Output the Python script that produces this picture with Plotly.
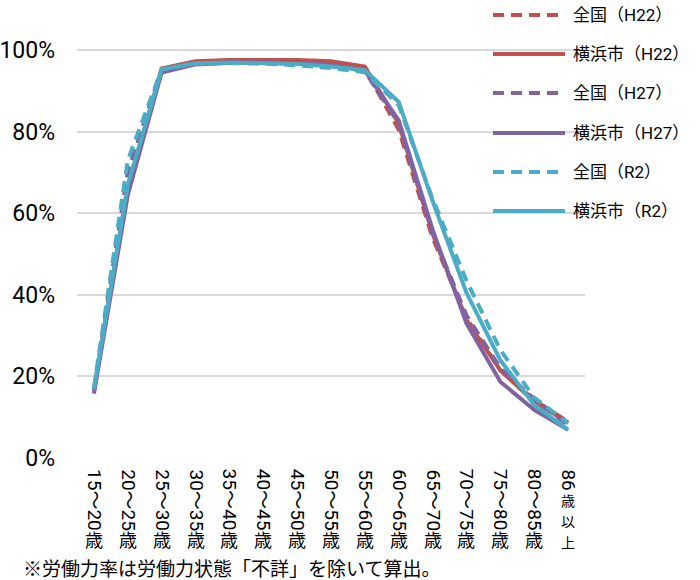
import plotly.graph_objects as go

# ---- data ----
age_groups = ["15～20歳", "20～25歳", "25～30歳", "30～35歳", "35～40歳", "40～45歳",
              "45～50歳", "50～55歳", "55～60歳", "60～65歳", "65～70歳", "70～75歳",
              "75～80歳", "80～85歳", "86歳以上"]
label_num = ["15～20", "20～25", "25～30", "30～35", "35～40", "40～45", "45～50", "50～55",
             "55～60", "60～65", "65～70", "70～75", "75～80", "80～85", "86"]
label_kanji = ["歳"] * 14 + ["歳以上"]

zenkoku_h22 = [16.5, 70.0, 95.3, 96.8, 97.2, 97.3, 97.1, 96.8, 95.5, 80.5, 54.0, 34.3, 21.5, 14.2, 8.9]
yokohama_h22 = [16.5, 66.0, 95.5, 97.3, 97.6, 97.7, 97.6, 97.3, 96.0, 82.0, 55.0, 33.8, 21.5, 13.8, 8.7]
zenkoku_h27 = [16.5, 70.0, 95.0, 96.6, 97.0, 97.0, 96.7, 96.2, 94.8, 82.0, 55.0, 35.0, 22.0, 14.5, 8.0]
yokohama_h27 = [15.8, 64.5, 94.5, 96.5, 96.9, 97.0, 96.8, 96.4, 95.0, 82.8, 56.0, 33.0, 18.7, 11.8, 6.9]
zenkoku_r2 = [17.2, 73.0, 95.3, 96.6, 96.8, 96.7, 96.3, 95.6, 94.6, 86.5, 63.5, 43.5, 26.5, 14.8, 8.5]
yokohama_r2 = [16.8, 67.0, 95.3, 96.8, 97.0, 96.9, 96.6, 96.0, 95.1, 87.3, 63.0, 40.5, 24.0, 13.0, 6.9]

series_names = ["全国（H22）", "横浜市（H22）", "全国（H27）", "横浜市（H27）", "全国（R2）", "横浜市（R2）"]
series_values = [zenkoku_h22, yokohama_h22, zenkoku_h27, yokohama_h27, zenkoku_r2, yokohama_r2]
y_ticks = [0, 0.2, 0.4, 0.6, 0.8, 1.0]
y_tick_text = ["0%", "20%", "40%", "60%", "80%", "100%"]
footnote = "※労働力率は労働力状態「不詳」を除いて算出。"

# ---- styles ----
RED, PURPLE, CYAN = "#C0504D", "#8064A2", "#4BACC6"
colors = [RED, RED, PURPLE, PURPLE, CYAN, CYAN]
dashes = ["11px,7px", "solid", "11px,7px", "solid", "11px,7px", "solid"]
LAT = "Roboto, Noto Sans CJK JP"
CJK = "Noto Sans CJK JP"

W, H = 700, 580
ML, MR, MT, MB = 77, 115, 42, 122
PH = H - MT - MB
PW = W - ML - MR


def py(p):  # pixel y -> paper y
    return (H - MB - p) / PH


def px(p):  # pixel x -> paper x
    return (p - ML) / PW


fig = go.Figure()
for name, vals, c, d in zip(series_names, series_values, colors, dashes):
    fig.add_trace(go.Scatter(
        x=age_groups, y=[v / 100 for v in vals], mode="lines", name=name,
        line=dict(color=c, width=4, dash=d), showlegend=False, hoverinfo="skip"))

annotations = []
shapes = []
# x tick labels: digits rotated, kanji upright (vertical writing)
for cat, num, kan in zip(age_groups, label_num, label_kanji):
    annotations.append(dict(x=cat, xref="x", y=py(468), yref="paper", text=num,
                            textangle=90, showarrow=False, xanchor="center", yanchor="top",
                            borderpad=0, font=dict(family=LAT, size=19, color="#000")))
    if len(kan) == 1:
        annotations.append(dict(x=cat, xref="x", y=py(539), yref="paper", text=kan,
                                showarrow=False, xanchor="center", yanchor="middle",
                                borderpad=0, font=dict(family=CJK, size=18, color="#000")))
    else:
        for k, ch in enumerate(kan):
            annotations.append(dict(x=cat, xref="x", y=py(500 + 21 * k), yref="paper", text=ch,
                                    showarrow=False, xanchor="center", yanchor="middle",
                                    borderpad=0, font=dict(family=CJK, size=14, color="#000")))

# legend (manual, long line samples)
row_y = [15, 54, 93, 133, 172, 211]
for name, c, d, ry in zip(series_names, colors, dashes, row_y):
    shapes.append(dict(type="line", xref="paper", yref="paper", x0=px(493), x1=px(565),
                       y0=py(ry), y1=py(ry), line=dict(color=c, width=4, dash=d)))
    annotations.append(dict(x=px(571), xref="paper", y=py(ry), yref="paper", text=name,
                            showarrow=False, xanchor="left", yanchor="middle",
                            font=dict(family=LAT, size=17, color="#000")))

annotations.append(dict(x=px(22), xref="paper", y=py(567), yref="paper", text=footnote,
                        showarrow=False, xanchor="left", yanchor="middle", borderpad=0,
                        font=dict(family=CJK, size=19, color="#000")))

fig.update_layout(
    width=W, height=H, autosize=False,
    margin=dict(l=ML, r=MR, t=MT, b=MB, pad=0, autoexpand=False),
    paper_bgcolor="white", plot_bgcolor="white",
    annotations=annotations, shapes=shapes,
    xaxis=dict(type="category", range=[-0.5, 14.5], showticklabels=False, showgrid=False,
               zeroline=False, showline=False, fixedrange=True, automargin=False),
    yaxis=dict(range=[0, 1.02], tickvals=y_ticks, ticktext=y_tick_text, showgrid=True,
               gridcolor="#D9D9D9", gridwidth=1.5, zeroline=False, showline=False,
               ticks="", ticklabelstandoff=21, automargin=False,
               tickfont=dict(family=LAT, size=23, color="#000"), fixedrange=True),
    showlegend=False,
)
fig.write_html("out.html", config={"displayModeBar": False},
               post_script="document.body.style.margin='0';document.body.style.overflow='hidden';")
